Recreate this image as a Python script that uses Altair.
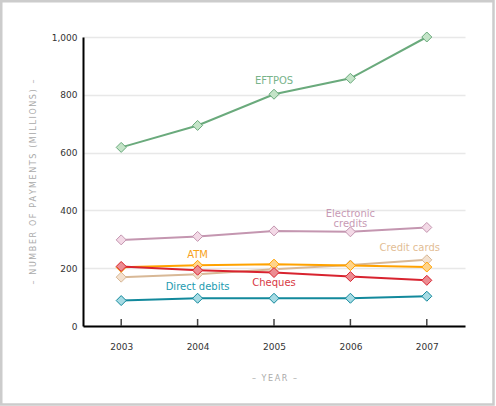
import altair as alt
import pandas as pd

# Annual number of non-cash payments, millions
years = [2003, 2004, 2005, 2006, 2007]
eftpos = [618, 694, 802, 857, 1000]
electronic_credits = [298, 310, 329, 326, 341]
credit_cards = [169, 179, 196, 211, 229]
atm = [203, 210, 214, 209, 204]
cheques = [206, 193, 185, 171, 158]
direct_debits = [88, 96, 96, 96, 103]
y_ticks = [0, 200, 400, 600, 800, 1000]

# name, values, line colour, marker fill, label colour, label text,
# label anchor year, label offset (dx, dy)
series = [
    ("EFTPOS", eftpos, "#6aaa7c", "#c4e4c8", "#79b48a", "EFTPOS", 2005, (0, -13)),
    ("Electronic credits", electronic_credits, "#c496b0", "#f3d9e6", "#c79ab4",
     ["Electronic", "credits"], 2006, (0, -18)),
    ("Credit cards", credit_cards, "#d8b896", "#f3e1cf", "#e2bd95", "Credit cards", 2007, (-17, -12)),
    ("ATM", atm, "#ffa200", "#ffd48a", "#f7a21b", "ATM", 2004, (0, -10)),
    ("Cheques", cheques, "#d8232f", "#ec8c92", "#d83a44", "Cheques", 2005, (0, 10)),
    ("Direct debits", direct_debits, "#12899c", "#a6dbe4", "#1c9bb0", "Direct debits", 2004, (0, -11)),
]

FONT = "DejaVu Sans"
W, H = 382, 289
PAD = {"left": 83, "top": 37, "right": 31, "bottom": 80}

def spaced(s):
    return "\u2009".join(s)

x_enc = alt.X(
    "year:Q",
    scale=alt.Scale(domain=[2002.5, 2007.5], nice=False, zero=False),
    axis=alt.Axis(
        title=spaced("– YEAR –"), values=years, format="d", labelAngle=0,
        ticks=False, tickSize=0, labelPadding=16, labelFont=FONT, labelFontSize=9,
        labelColor="#333333", domainColor="#000000", domainWidth=2, grid=False,
        titleFont=FONT, titleFontSize=8, titleFontWeight="normal", titleColor="#aaaaaa",
        titleBaseline="middle", titleY=52,
    ),
)
y_enc = alt.Y(
    "value:Q",
    scale=alt.Scale(domain=[0, 1000], nice=False),
    axis=alt.Axis(
        title=spaced("– NUMBER OF PAYMENTS (MILLIONS) –"), values=y_ticks,
        labelExpr="format(datum.value, ',')", ticks=False, tickSize=0, labelPadding=6,
        labelFont=FONT, labelFontSize=9, labelColor="#333333",
        domainColor="#000000", domainWidth=2,
        grid=True, gridColor="#e8e8e8", gridWidth=1.5,
        titleFont=FONT, titleFontSize=8, titleFontWeight="normal", titleColor="#aaaaaa",
        titleAngle=-90, titleBaseline="middle", titleAlign="center", titleX=-50, titleY=H / 2,
    ),
)

layers = []

for name, vals, line_c, fill_c, lab_c, text, lab_year, (dx, dy) in series:
    df = pd.DataFrame({"year": years, "value": vals})
    base = alt.Chart(df).encode(x=x_enc, y=y_enc)
    layers.append(base.mark_line(color=line_c, strokeWidth=2))
    layers.append(base.mark_point(shape="diamond", size=100, filled=True,
                                  fill=fill_c, stroke=line_c, strokeWidth=1, opacity=1))
    ldf = df[df["year"] == lab_year]
    layers.append(
        alt.Chart(ldf).mark_text(
            text=text, font=FONT, fontSize=10, color=lab_c, dx=dx, dy=dy,
            align="center", baseline="middle", lineHeight=10,
        ).encode(x=x_enc, y=y_enc)
    )

# small upward ticks on the year axis
tick_df = pd.DataFrame({"year": years})
ticks = alt.Chart(tick_df).mark_rule(color="#444444", strokeWidth=1.5).encode(
    x=x_enc, y=alt.value(H - 7), y2=alt.value(H)
)
layers.append(ticks)

# outer frame around the whole figure
frame = alt.Chart(pd.DataFrame({"k": [0]})).mark_rect(
    fill=None, stroke="#cccccc", strokeWidth=2.5
).encode(
    x=alt.value(-PAD["left"] + 1.25), x2=alt.value(W + PAD["right"] - 2.5),
    y=alt.value(-PAD["top"] + 1.25), y2=alt.value(H + PAD["bottom"] - 1.5),
)
layers.append(frame)

chart = alt.layer(*layers).properties(
    width=W, height=H, padding=PAD, autosize=alt.AutoSizeParams(type="none"),
    background="white",
).configure_view(stroke=None)

chart.save("out.html", embed_options={"renderer": "svg", "actions": False})
